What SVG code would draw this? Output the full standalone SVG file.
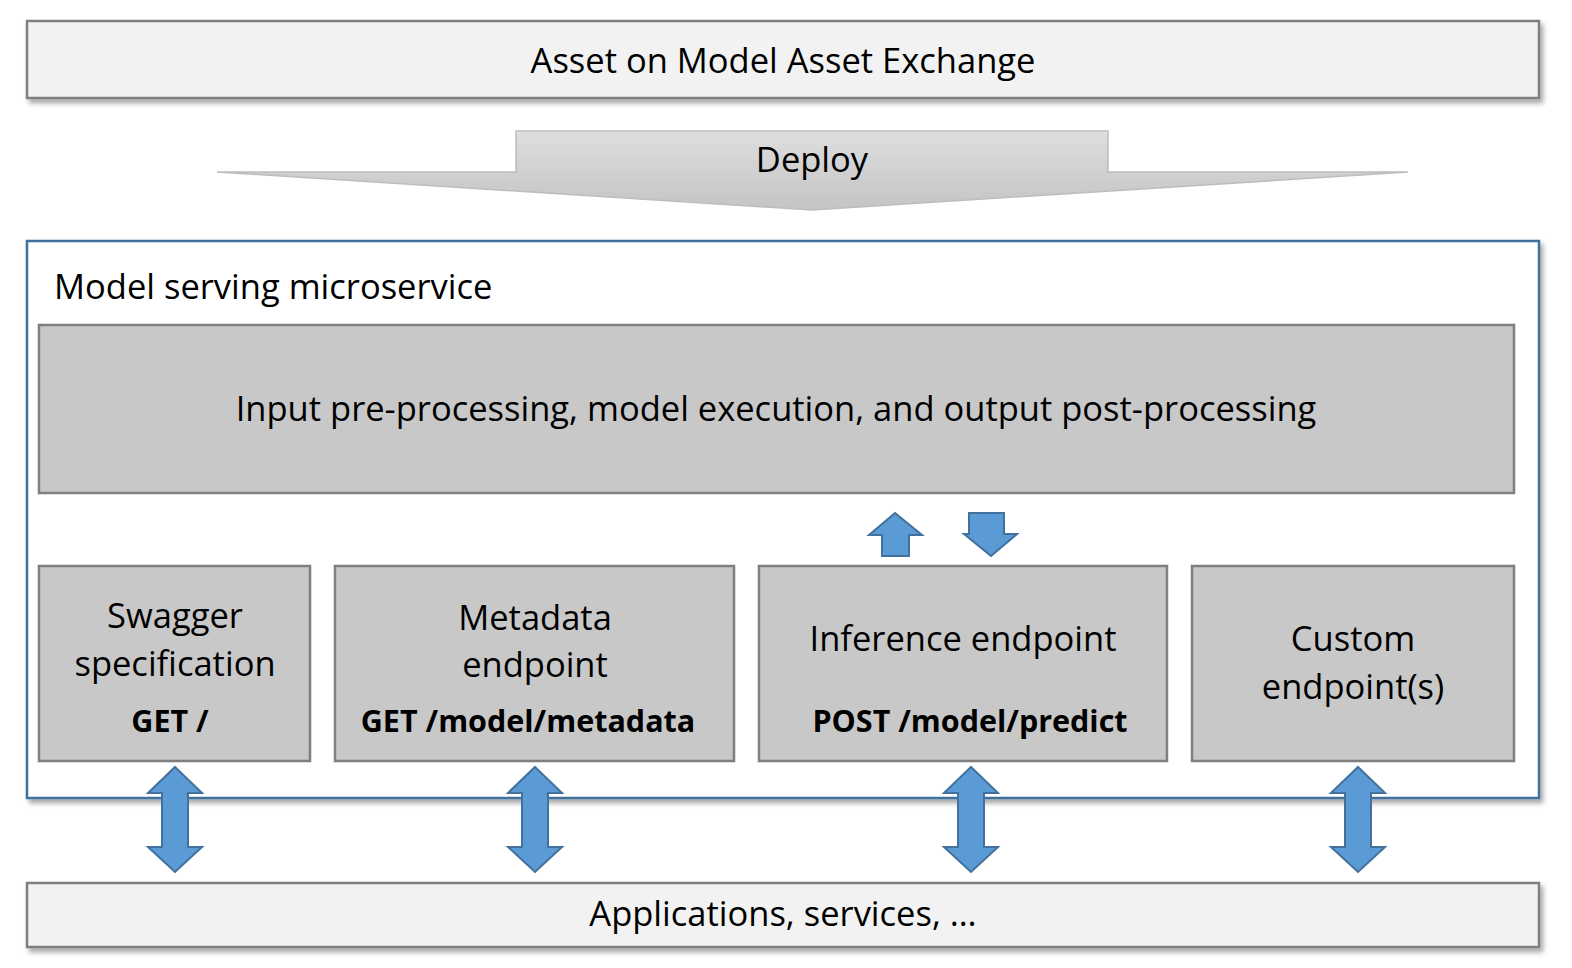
<svg xmlns="http://www.w3.org/2000/svg" width="1572" height="968" viewBox="0 0 1572 968">
<defs>
<filter id="sh" x="-5%" y="-20%" width="110%" height="140%">
<feDropShadow dx="3" dy="4" stdDeviation="2.5" flood-color="#000" flood-opacity="0.35"/>
</filter>
<linearGradient id="dg" x1="0" y1="0" x2="0" y2="1">
<stop offset="0" stop-color="#dedede"/>
<stop offset="1" stop-color="#c4c4c4"/>
</linearGradient>
<style>
text{font-family:"Open Sans","Noto Sans","DejaVu Sans",sans-serif;fill:#000;font-size:34.5px;}
.c{text-anchor:middle;}
.b{font-weight:bold;font-size:30.5px;}
.light{fill:#f2f2f2;stroke:#7f7f7f;stroke-width:2.5;}
.gray{fill:#c8c8c8;stroke:#7f7f7f;stroke-width:2.5;}
.arrow{fill:#5b9bd5;stroke:#41719c;stroke-width:2;}
</style>
</defs>
<rect width="1572" height="968" fill="#fff"/>
<g id="asset">
<rect class="light" x="27" y="21" width="1512" height="77" filter="url(#sh)"/>
<text class="c" x="783" y="73">Asset on Model Asset Exchange</text>
</g>
<g id="deploy">
<polygon points="516,131 1108,131 1108,172 1408,172 812,210 217,172 516,172" fill="url(#dg)" stroke="#bdbdbd" stroke-width="1.5"/>
<text class="c" x="812" y="172">Deploy</text>
</g>
<g id="microservice">
<rect x="27" y="241" width="1512" height="557" fill="#fff" stroke="#41719c" stroke-width="2.5" filter="url(#sh)"/>
<text x="54" y="299">Model serving microservice</text>
</g>
<g id="processing">
<rect class="gray" x="39" y="325" width="1475" height="168"/>
<text class="c" x="776" y="421">Input pre-processing, model execution, and output post-processing</text>
</g>
<g id="swagger">
<rect class="gray" x="39" y="566" width="271" height="195"/>
<text class="c" x="175" y="628">Swagger</text>
<text class="c" x="175" y="676">specification</text>
<text class="c b" x="170" y="732">GET /</text>
</g>
<g id="metadata">
<rect class="gray" x="335" y="566" width="399" height="195"/>
<text class="c" x="535" y="630">Metadata</text>
<text class="c" x="535" y="677">endpoint</text>
<text class="c b" x="528" y="732">GET /model/metadata</text>
</g>
<g id="inference">
<rect class="gray" x="759" y="566" width="408" height="195"/>
<text class="c" x="963" y="651">Inference endpoint</text>
<text class="c b" x="970" y="732">POST /model/predict</text>
</g>
<g id="custom">
<rect class="gray" x="1192" y="566" width="322" height="195"/>
<text class="c" x="1353" y="651">Custom</text>
<text class="c" x="1353" y="699">endpoint(s)</text>
</g>
<g id="applications">
<rect class="light" x="27" y="883" width="1512" height="64" filter="url(#sh)"/>
<text class="c" x="783" y="926">Applications, services, …</text>
</g>
<g id="connectors">
<polygon class="arrow" points="895,513 922,535 909,535 909,556 882,556 882,535 869,535"/>
<polygon class="arrow" points="969,513 1004,513 1004,534 1017,534 991,556 964,534 969,534"/>
<polygon class="arrow" points="175,767 202,793 188,793 188,847 202,847 175,872 148,847 162,847 162,793 148,793"/>
<polygon class="arrow" points="535,767 562,793 548,793 548,847 562,847 535,872 508,847 522,847 522,793 508,793"/>
<polygon class="arrow" points="971,767 998,793 984,793 984,847 998,847 971,872 944,847 958,847 958,793 944,793"/>
<polygon class="arrow" points="1358,767 1385,793 1371,793 1371,847 1385,847 1358,872 1331,847 1345,847 1345,793 1331,793"/>
</g>
</svg>
